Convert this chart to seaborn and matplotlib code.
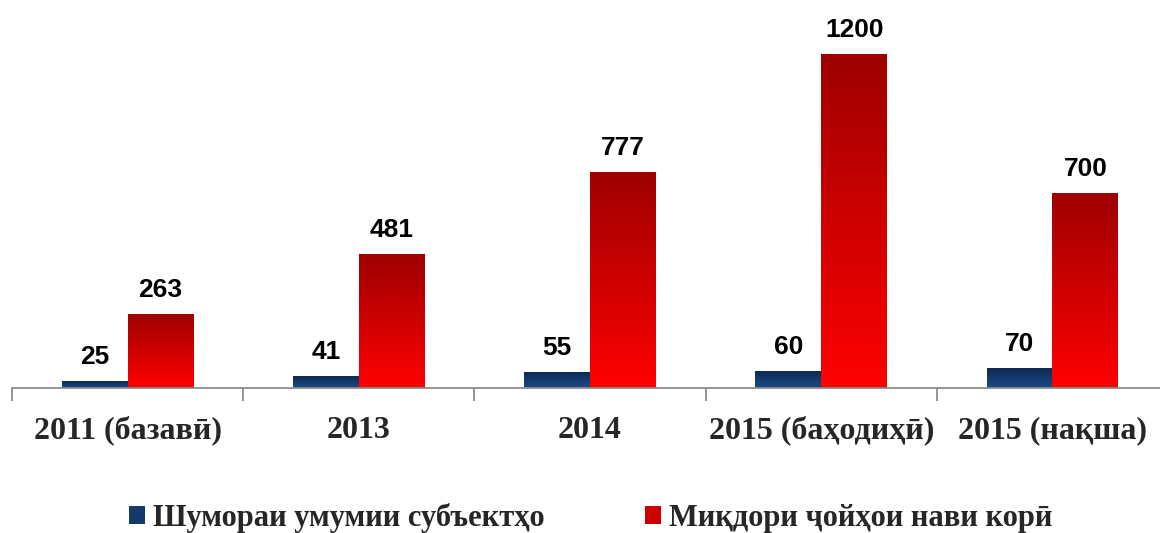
import numpy as np
import pandas as pd
import seaborn as sns
import matplotlib.pyplot as plt
from matplotlib.colors import LinearSegmentedColormap
from matplotlib.patches import Patch

categories = ["2011 (базавӣ)", "2013", "2014", "2015 (баҳодиҳӣ)", "2015 (нақша)"]
series = ["Шумораи умумии субъектҳо", "Миқдори ҷойҳои нави корӣ"]
subjects = [25, 41, 55, 60, 70]
jobs = [263, 481, 777, 1200, 700]

df = pd.DataFrame({
    "cat": categories * 2,
    "series": [series[0]] * len(categories) + [series[1]] * len(categories),
    "value": subjects + jobs,
})

sns.set_style("white")
plt.rcParams["font.family"] = ["Liberation Serif", "DejaVu Serif"]

fig = plt.figure(figsize=(11.6, 5.33), dpi=100)
# axis runs past the right edge, like the original
ax = fig.add_axes([12 / 1160, 145 / 533, 1156 / 1160, 361 / 533])

blue_top, blue_bot = "#0d2a52", "#1c4b8a"
red_top, red_bot = "#9e0000", "#ff0000"

sns.barplot(data=df, x="cat", y="value", hue="series", order=categories,
            hue_order=series, palette=[blue_bot, red_bot], width=0.57,
            gap=0, saturation=1, ax=ax, legend=False)

# gradient fill over each bar
cmaps = [LinearSegmentedColormap.from_list("b", [blue_bot, blue_top]),
         LinearSegmentedColormap.from_list("r", [red_bot, red_top])]
grad = np.linspace(0, 1, 256).reshape(-1, 1)
for i, container in enumerate(ax.containers):
    for bar in container:
        x0, y0 = bar.get_x(), bar.get_y()
        w, h = bar.get_width(), bar.get_height()
        ax.imshow(grad, extent=[x0, x0 + w, y0, y0 + h], origin="lower",
                  aspect="auto", cmap=cmaps[i], zorder=bar.get_zorder())
        bar.set_alpha(0)
    ax.bar_label(container, padding=9, fontsize=19, fontweight="bold",
                 family=["Liberation Sans", "DejaVu Sans"], color="black")

ax.set_ylim(0, 1300)
ax.set_xlim(-0.5, len(categories) - 0.5)

for s in ["top", "right", "left"]:
    ax.spines[s].set_visible(False)
ax.spines["bottom"].set_color("#8c8c8c")
ax.spines["bottom"].set_linewidth(1.3)
ax.set_yticks([])
ax.set_xticks(range(len(categories)))
ax.set_xticklabels(categories, fontsize=23, fontweight="bold")
ax.set_xticks(np.arange(-0.5, len(categories), 1), minor=True)
ax.tick_params(axis="x", which="major", length=0, pad=20)
ax.tick_params(axis="x", which="minor", bottom=True, length=9, width=1.3,
               color="#8c8c8c")
ax.set_xlabel("")
ax.set_ylabel("")

handles = [Patch(facecolor="#143a6c", edgecolor="none"),
           Patch(facecolor="#cc0000", edgecolor="none")]
fig.legend(handles, series, loc="center", bbox_to_anchor=(0.509, 1 - 518 / 533),
           ncol=2, frameon=False, prop={"size": 22, "weight": "bold"},
           handlelength=0.52, handleheight=0.52, handletextpad=0.25,
           columnspacing=3.3)

fig.savefig("out.png", dpi=100)
